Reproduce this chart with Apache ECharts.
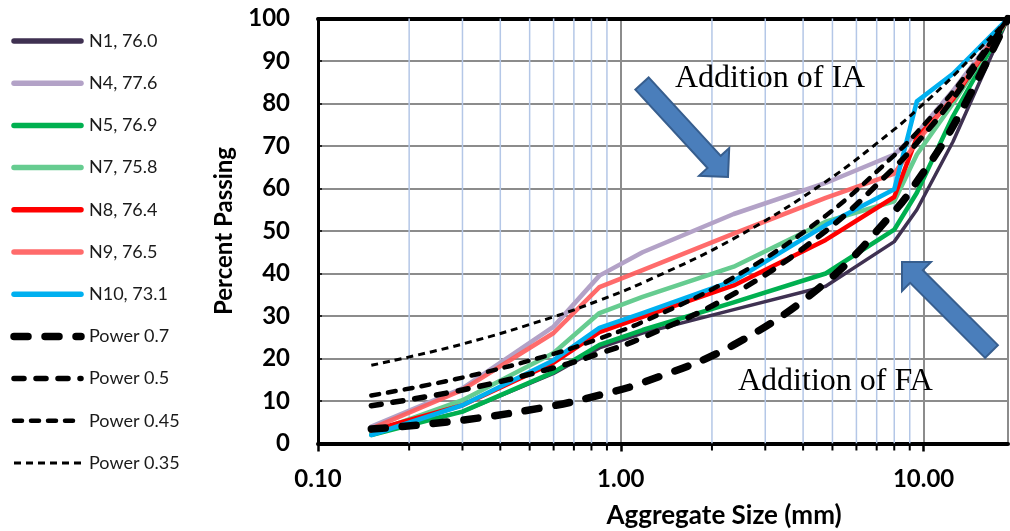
<!DOCTYPE html>
<html>
<head>
<meta charset="utf-8">
<script src="https://cdn.jsdelivr.net/npm/echarts@6/dist/echarts.min.js"></script>
<style>
  html, body { margin: 0; padding: 0; background: #fff; }
  #chart { width: 1010px; height: 531px; }
</style>
</head>
<body>
<div id="chart"></div>
<script>
// Sieve sizes (mm) and percent passing for each mix
const sizes = [0.15, 0.3, 0.6, 0.85, 1.18, 2.36, 4.75, 8, 9.5, 12.5, 19];

const n1  = [2.5, 7.5, 16.5, 22.5, 26.0, 31.5, 37.0, 47.5, 55.0, 71.0, 100];
const n4  = [4.0, 13.0, 27.5, 39.5, 45.0, 54.0, 61.3, 68.0, 73.0, 83.0, 100];
const n5  = [2.0, 7.5, 16.8, 23.2, 26.7, 33.2, 40.0, 50.3, 59.0, 77.0, 100];
const n7  = [2.5, 10.2, 21.3, 30.7, 34.5, 41.6, 52.2, 57.0, 68.0, 80.0, 100];
const n8  = [3.0, 9.0, 19.0, 26.2, 29.8, 37.2, 47.9, 58.0, 72.0, 81.0, 100];
const n9  = [3.5, 12.6, 26.0, 36.8, 40.8, 49.4, 57.8, 63.5, 71.0, 81.5, 100];
const n10 = [2.0, 9.0, 19.6, 27.2, 30.7, 38.3, 51.4, 59.8, 80.5, 87.0, 100];

// Reference power-law gradations
const pow07  = [3.4, 5.5, 8.9, 11.4, 14.3, 23.2, 37.9, 54.6, 61.6, 74.6, 100];
const pow05  = [8.9, 12.6, 17.8, 21.2, 24.9, 35.2, 50.0, 64.9, 70.7, 81.1, 100];
const pow045 = [11.3, 15.5, 21.1, 24.7, 28.6, 39.1, 53.6, 67.8, 73.2, 82.8, 100];
const pow035 = [18.4, 23.4, 29.8, 33.7, 37.8, 48.2, 61.6, 73.9, 78.5, 86.4, 100];

const mixNames = ['N1, 76.0', 'N4, 77.6', 'N5, 76.9', 'N7, 75.8', 'N8, 76.4', 'N9, 76.5', 'N10, 73.1'];
const powerNames = ['Power 0.7', 'Power 0.5', 'Power 0.45', 'Power 0.35'];

// Minor log-decade positions for the light grid and small ticks
const minorSizes = [0.2, 0.3, 0.4, 0.5, 0.6, 0.7, 0.8, 0.9, 2, 3, 4, 5, 6, 7, 8, 9];

const yTicks = [0, 10, 20, 30, 40, 50, 60, 70, 80, 90, 100];

const FONT = 'Lato, "Open Sans", sans-serif';
const SERIF = '"Liberation Serif", "Times New Roman", serif';

// Line styles per curve (shared by the plot and the key)
const curveStyles = [
  { color: '#3f3151', width: 3.5 },
  { color: '#b3a2c7', width: 4.5 },
  { color: '#00b050', width: 4.5 },
  { color: '#66cc90', width: 4.5 },
  { color: '#ff0000', width: 4.5 },
  { color: '#ff5b5b', width: 4.5, opacity: 0.9 },
  { color: '#00b0f0', width: 4.5 },
  { color: '#000', width: 7.5, dash: [14, 17], cap: 'round' },
  { color: '#000', width: 5.5, dash: [10, 12], cap: 'round' },
  { color: '#000', width: 4.5, dash: [8, 9], cap: 'round' },
  { color: '#000', width: 3, dash: [7, 5], cap: 'butt' }
];
const curveValues = [n1, n4, n5, n7, n8, n9, n10, pow07, pow05, pow045, pow035];
const curveNames = mixNames.concat(powerNames);

function pairs(values) {
  return sizes.map((s, i) => [s, values[i]]);
}

// Block arrow outline from tail centre to tip
function arrowPoints(tail, tip, shaftHalf, headHalf, headLen) {
  const dx = tip[0] - tail[0], dy = tip[1] - tail[1];
  const len = Math.sqrt(dx * dx + dy * dy);
  const ux = dx / len, uy = dy / len;
  const nx = -uy, ny = ux;
  const bx = tip[0] - ux * headLen, by = tip[1] - uy * headLen;
  return [
    [tail[0] + nx * shaftHalf, tail[1] + ny * shaftHalf],
    [bx + nx * shaftHalf, by + ny * shaftHalf],
    [bx + nx * headHalf, by + ny * headHalf],
    [tip[0], tip[1]],
    [bx - nx * headHalf, by - ny * headHalf],
    [bx - nx * shaftHalf, by - ny * shaftHalf],
    [tail[0] - nx * shaftHalf, tail[1] - ny * shaftHalf]
  ];
}

const chart = echarts.init(document.getElementById('chart'), null, { renderer: 'canvas' });

const series = [
  {
    name: 'minor-grid', type: 'custom', z: 1, silent: true, clip: false,
    data: minorSizes.map(v => [v, 0]),
    encode: { x: 0, y: 1 },
    renderItem(params, api) {
      const x = api.value(0);
      const p0 = api.coord([x, 0]);
      const p1 = api.coord([x, 100]);
      return {
        type: 'group',
        children: [
          { type: 'line', shape: { x1: p0[0], y1: p0[1], x2: p1[0], y2: p1[1] },
            style: { stroke: '#b4c7e7', lineWidth: 1.5 } },
          { type: 'line', shape: { x1: p0[0], y1: p0[1], x2: p0[0], y2: p0[1] + 7 },
            style: { stroke: '#000', lineWidth: 2 } }
        ]
      };
    }
  }
];

curveNames.forEach((name, i) => {
  const st = curveStyles[i];
  const isPower = i >= mixNames.length;
  series.push({
    name, type: 'line', data: pairs(curveValues[i]), symbol: 'none', showSymbol: false,
    smooth: isPower ? 0.4 : false, z: isPower ? 4 : 3,
    lineStyle: {
      color: st.color, width: st.width, opacity: st.opacity || 1,
      type: st.dash || 'solid', cap: st.cap || 'round', join: 'round'
    }
  });
});

// Key on the left: sample line plus label for every curve
const keyItems = [];
curveNames.forEach((name, i) => {
  const st = curveStyles[i];
  const y = 41 + 42.2 * i;
  keyItems.push({
    type: 'line', silent: true,
    shape: { x1: 14, y1: y, x2: 81, y2: y },
    style: {
      stroke: st.color, lineWidth: st.dash ? st.width : 5.5, lineDash: st.dash || null,
      lineCap: st.dash ? st.cap : 'round', opacity: st.opacity || 1
    }
  });
  keyItems.push({
    type: 'text', silent: true, x: 89, y: y,
    style: { text: name, fontFamily: FONT, fontSize: 18, fill: '#1a1a1a',
             textAlign: 'left', textVerticalAlign: 'middle' }
  });
});

chart.setOption({
  animation: false,
  backgroundColor: '#fff',
  grid: { left: 318, right: 2, top: 18.5, bottom: 87.5, containLabel: false },
  xAxis: [
    {
      type: 'log', logBase: 10, min: 0.1, max: 19,
      axisLine: { show: true, lineStyle: { color: '#000', width: 4 } },
      axisTick: { show: true, length: 8, lineStyle: { color: '#000', width: 2.5 } },
      axisLabel: {
        fontFamily: FONT, fontSize: 24, fontWeight: 'bold', color: '#000', margin: 24,
        formatter: v => Number(v).toFixed(2), showMaxLabel: false
      },
      splitLine: { show: true, lineStyle: { color: '#8c8c8c', width: 2 } }
    },
    {
      type: 'log', logBase: 10, min: 0.1, max: 19, position: 'top',
      axisLine: { show: true, lineStyle: { color: '#000', width: 4 } },
      axisTick: { show: false }, axisLabel: { show: false }, splitLine: { show: false }
    }
  ],
  yAxis: {
    type: 'value', min: 0, max: 100, interval: 10,
    name: 'Percent Passing', nameLocation: 'middle', nameGap: 82,
    nameTextStyle: { fontFamily: FONT, fontSize: 24, fontWeight: 'bold', color: '#000' },
    axisLine: { show: true, lineStyle: { color: '#000', width: 3 } },
    axisTick: { show: true, inside: true, length: 4, lineStyle: { color: '#000', width: 1.5 } },
    axisLabel: {
      fontFamily: FONT, fontSize: 24, fontWeight: 'bold', color: '#000', margin: 28,
      customValues: yTicks
    },
    splitLine: { show: true, lineStyle: { color: '#8c8c8c', width: 2 } }
  },
  graphic: keyItems.concat([
    {
      type: 'text', x: 724, y: 516, z: 10,
      style: { text: 'Aggregate Size (mm)', fontFamily: FONT, fontSize: 26, fontWeight: 'bold',
               fill: '#000', textAlign: 'center', textVerticalAlign: 'middle' }
    },
    {
      type: 'polygon', z: 10,
      shape: { points: arrowPoints([642, 83.5], [728, 177], 9, 20.5, 20.5) },
      style: { fill: '#4a7ebb', stroke: '#375e8e', lineWidth: 2 }
    },
    {
      type: 'polygon', z: 10,
      shape: { points: arrowPoints([991.5, 351.5], [902, 262], 9, 20.5, 20.5) },
      style: { fill: '#4a7ebb', stroke: '#375e8e', lineWidth: 2 }
    },
    {
      type: 'text', x: 675, y: 79, z: 10,
      style: { text: 'Addition of IA', fontFamily: SERIF, fontSize: 32,
               fill: '#000', textAlign: 'left', textVerticalAlign: 'middle' }
    },
    {
      type: 'text', x: 738, y: 382, z: 10,
      style: { text: 'Addition of FA', fontFamily: SERIF, fontSize: 32,
               fill: '#000', textAlign: 'left', textVerticalAlign: 'middle' }
    }
  ]),
  series
});
</script>
</body>
</html>
